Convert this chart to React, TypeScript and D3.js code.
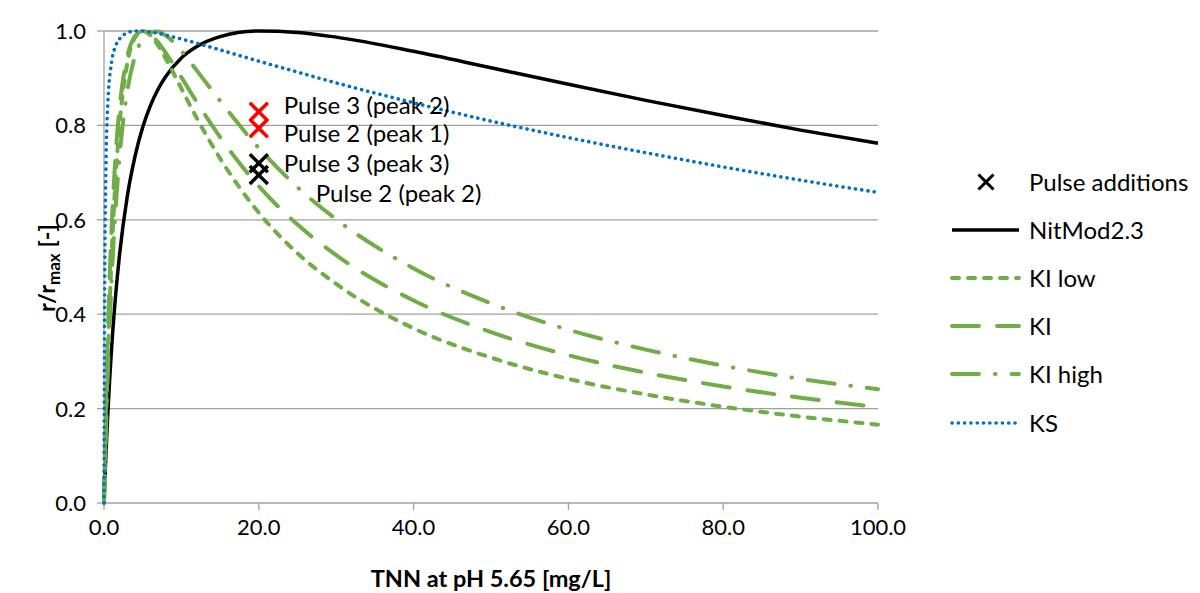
import React from 'react'
import * as d3 from 'd3'

const width = 1200
const height = 593

// TNN concentration [mg/L] where the curves were read
const tnn = [0, 0.05, 0.1, 0.25, 0.5, 1, 1.5, 2, 3, 4, 5, 6, 7, 8, 10, 12, 15, 20, 25, 30, 40, 50, 60, 70, 80, 90, 100]

const nitMod = [0, 0.022, 0.044, 0.104, 0.192, 0.333, 0.44, 0.525, 0.649, 0.734, 0.796, 0.842, 0.877, 0.904, 0.943, 0.967, 0.988, 1.0, 0.997, 0.987, 0.957, 0.922, 0.887, 0.853, 0.821, 0.79, 0.762]
const kiLow = [0, 0.035, 0.07, 0.166, 0.308, 0.529, 0.688, 0.8, 0.931, 0.986, 1.0, 0.991, 0.969, 0.941, 0.878, 0.815, 0.73, 0.615, 0.529, 0.464, 0.37, 0.308, 0.263, 0.23, 0.204, 0.183, 0.166]
const ki = [0, 0.045, 0.087, 0.203, 0.362, 0.59, 0.738, 0.836, 0.945, 0.989, 1.0, 0.993, 0.976, 0.953, 0.902, 0.849, 0.775, 0.671, 0.59, 0.525, 0.429, 0.362, 0.313, 0.276, 0.247, 0.223, 0.203]
const kiHigh = [0, 0.032, 0.063, 0.151, 0.278, 0.478, 0.624, 0.732, 0.871, 0.946, 0.984, 0.998, 0.999, 0.99, 0.958, 0.916, 0.852, 0.752, 0.669, 0.601, 0.497, 0.423, 0.367, 0.325, 0.291, 0.263, 0.241]
const ks = [0, 0.31, 0.479, 0.711, 0.848, 0.936, 0.968, 0.983, 0.996, 1.0, 1.0, 0.998, 0.995, 0.991, 0.983, 0.974, 0.96, 0.936, 0.913, 0.89, 0.848, 0.809, 0.774, 0.742, 0.712, 0.684, 0.658]

// pulse additions
const pulseX = [20, 20, 20, 20]
const pulseY = [0.829, 0.794, 0.72, 0.695]
const pulseLabels = ['Pulse 3 (peak 2)', 'Pulse 2 (peak 1)', 'Pulse 3 (peak 3)', 'Pulse 2 (peak 2)']
const pulseColors = ['#FF0000', '#FF0000', '#000000', '#000000']

const xTicks = [0, 20, 40, 60, 80, 100]
const yTicks = [0, 0.2, 0.4, 0.6, 0.8, 1.0]

const green = '#70AD47'
const series = [
  { name: 'NitMod2.3', values: nitMod, color: '#000000', dash: null, w: 3.5 },
  { name: 'KI low', values: kiLow, color: green, dash: '7 9', w: 4 },
  { name: 'KI', values: ki, color: green, dash: '27 18', w: 4 },
  { name: 'KI high', values: kiHigh, color: green, dash: '27 16 0.5 16', w: 4 },
  { name: 'KS', values: ks, color: '#0070C0', dash: '0.1 6.2', w: 3.6 },
]

const font = 'Lato, Carlito, Calibri, sans-serif'
const gridColor = '#A0A0A0'

const x = d3.scaleLinear().domain([0, 100]).range([104, 878])
const y = d3.scaleLinear().domain([0, 1]).range([503, 31])

// label offsets relative to marker (layout only)
const labelDx = [25, 25, 25, 57]
const labelDy = [-6, 5, 0, 18]

function Cross({ cx, cy, s, color, w }) {
  return (
    <g stroke={color} strokeWidth={w}>
      <line x1={cx - s} y1={cy - s} x2={cx + s} y2={cy + s} />
      <line x1={cx - s} y1={cy + s} x2={cx + s} y2={cy - s} />
    </g>
  )
}

export default function App() {
  const line = (vals) =>
    d3
      .line()
      .x((d, i) => x(tnn[i]))
      .y((d) => y(d))
      .curve(d3.curveMonotoneX)(vals)

  const legendRows = [182, 230, 278, 326, 374, 423]

  return (
    <svg width={width} height={height} style={{ position: 'absolute', left: 0, top: 0 }} fontFamily={font}>
      <rect width={width} height={height} fill="#fff" />
      {yTicks.slice(1).map((t) => (
        <line key={t} x1={x(0)} x2={x(100)} y1={y(t)} y2={y(t)} stroke={gridColor} strokeWidth={1.3} />
      ))}
      <line x1={x(0)} x2={x(0)} y1={y(0)} y2={y(1)} stroke={gridColor} strokeWidth={1.3} />
      <line x1={x(0)} x2={x(100)} y1={y(0)} y2={y(0)} stroke={gridColor} strokeWidth={1.3} />
      {yTicks.map((t) => (
        <g key={t}>
          <line x1={x(0) - 7} x2={x(0)} y1={y(t)} y2={y(t)} stroke={gridColor} strokeWidth={1.3} />
          <text x={86} y={y(t)} dy="0.36em" textAnchor="end" fontSize={22} fill="#000">
            {t.toFixed(1)}
          </text>
        </g>
      ))}
      {xTicks.map((t) => (
        <g key={t}>
          <line x1={x(t)} x2={x(t)} y1={y(0)} y2={y(0) + 7} stroke={gridColor} strokeWidth={1.3} />
          <text x={x(t)} y={527} dy="0.36em" textAnchor="middle" fontSize={22} fill="#000">
            {t.toFixed(1)}
          </text>
        </g>
      ))}
      <text x={491} y={587} textAnchor="middle" fontSize={23.5} fontWeight="bold">
        TNN at pH 5.65 [mg/L]
      </text>
      <text transform="translate(55,268) rotate(-90)" textAnchor="middle" fontSize={23.5} fontWeight="bold">
        r/r<tspan fontSize={17} dy={5}>max</tspan>
        <tspan dy={-5}> [-]</tspan>
      </text>

      {series.map((s) => (
        <path
          key={s.name}
          d={line(s.values)}
          fill="none"
          stroke={s.color}
          strokeWidth={s.w}
          strokeDasharray={s.dash || undefined}
          strokeLinecap={s.dash ? 'round' : 'butt'}
        />
      ))}

      {pulseX.map((px, i) => (
        <g key={i}>
          <Cross cx={x(px)} cy={y(pulseY[i])} s={9} color={pulseColors[i]} w={3.5} />
          <text x={x(px) + labelDx[i]} y={y(pulseY[i]) + labelDy[i]} dy="0.36em" fontSize={24}>
            {pulseLabels[i]}
          </text>
        </g>
      ))}

      {/* legend */}
      <Cross cx={986} cy={legendRows[0]} s={7.5} color="#000" w={3} />
      <text x={1029} y={legendRows[0]} dy="0.36em" fontSize={24}>
        Pulse additions
      </text>
      {series.map((s, i) => (
        <g key={s.name}>
          <line
            x1={952}
            x2={1019}
            y1={legendRows[i + 1]}
            y2={legendRows[i + 1]}
            stroke={s.color}
            strokeWidth={s.w}
            strokeDasharray={s.dash || undefined}
            strokeLinecap={s.dash ? 'round' : 'butt'}
          />
          <text x={1029} y={legendRows[i + 1]} dy="0.36em" fontSize={24}>
            {s.name}
          </text>
        </g>
      ))}
    </svg>
  )
}
